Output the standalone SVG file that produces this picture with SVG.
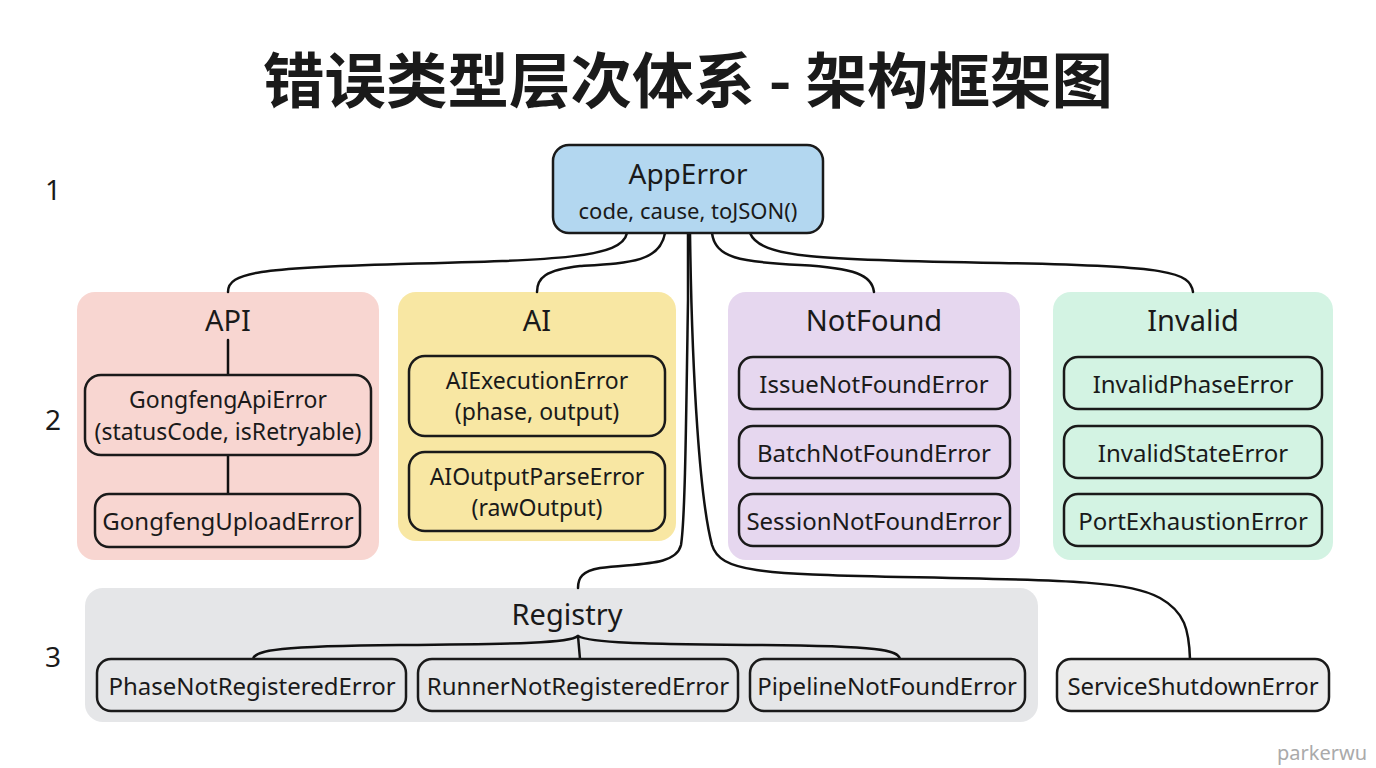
<svg xmlns="http://www.w3.org/2000/svg" width="1376" height="768" viewBox="0 0 1376 768">
<style>
text{font-family:"Noto Sans","Liberation Sans","Noto Sans CJK SC",sans-serif;fill:#1a1a1a;text-anchor:middle;dominant-baseline:central}
.title{font-family:"Noto Sans CJK SC","Noto Sans",sans-serif;font-size:60px;font-weight:700}
.row{font-size:28px}
.gt{font-size:29px}
.nt{font-size:24px}
.nt2{font-size:23px}
.box{stroke:#1a1a1a;stroke-width:2.5}
.grp{stroke:none}
.conn path{fill:none;stroke:#111;stroke-width:2.5;stroke-linecap:round}
.wm{font-size:20px;fill:#aaaaaa}
</style>
<rect width="1376" height="768" fill="#ffffff"/>
<text class="title" x="688" y="76" textLength="850" lengthAdjust="spacingAndGlyphs">错误类型层次体系 - 架构框架图</text>
<text class="row" x="53" y="189">1</text>
<text class="row" x="53" y="419">2</text>
<text class="row" x="53" y="656">3</text>

<g id="group-api">
<rect class="grp" x="77" y="292" width="302" height="268" rx="18" fill="#f8d6d1"/>
<text class="gt" x="228" y="319">API</text>
</g>
<g id="group-ai">
<rect class="grp" x="398" y="292" width="278" height="249" rx="18" fill="#f8e7a3"/>
<text class="gt" x="537" y="319">AI</text>
</g>
<g id="group-notfound">
<rect class="grp" x="728" y="292" width="292" height="268" rx="18" fill="#e6d7ef"/>
<text class="gt" x="874" y="319">NotFound</text>
</g>
<g id="group-invalid">
<rect class="grp" x="1053" y="292" width="280" height="268" rx="18" fill="#d3f3e3"/>
<text class="gt" x="1193" y="319">Invalid</text>
</g>
<g id="group-registry">
<rect class="grp" x="85" y="588" width="953" height="134" rx="18" fill="#e5e6e8"/>
<text class="gt" x="567" y="613">Registry</text>
</g>

<g class="conn" id="connectors">
<path d="M627,233 C622,258 560,260 400,264 C260,268 228,272 228,292"/>
<path d="M665,233 C660,262 630,263 580,266 C545,270 537,278 537,292"/>
<path d="M712,233 C715,258 740,262 800,265 C855,268 872,275 874,292"/>
<path d="M750,233 C760,258 820,260 1000,263 C1170,266 1190,272 1193,292"/>
<path d="M688,233 L688,300 C686,430 685,520 681,545 C676,566 640,563 600,568 C582,571 578,578 578,588"/>
<path d="M690,233 C692,380 700,500 712,545 C720,572 760,574 900,577 C1080,580 1130,582 1160,598 C1185,612 1189,630 1190,659"/>
<path d="M228,340 L228,375"/>
<path d="M228,455 L228,494"/>
<path d="M578,636 C570,643 520,644 400,645 C280,646 255,650 253,659"/>
<path d="M578,636 L580,659"/>
<path d="M578,636 C590,643 640,644 760,645 C880,646 898,650 900,659"/>
</g>

<g id="apperror">
<rect class="box" x="553" y="145" width="270" height="88" rx="16" fill="#b3d7f0"/>
<text x="688" y="173" font-size="28">AppError</text>
<text x="688" y="210" font-size="22">code, cause, toJSON()</text>
</g>

<g id="gongfengapierror">
<rect class="box" x="85" y="375" width="286" height="80" rx="16" fill="#f8d6d1"/>
<text class="nt2" x="228" y="399">GongfengApiError</text>
<text class="nt2" x="228" y="431">(statusCode, isRetryable)</text>
</g>
<g id="gongfenguploaderror">
<rect class="box" x="95" y="494" width="265" height="53" rx="14" fill="#f8d6d1"/>
<text class="nt" x="228" y="520">GongfengUploadError</text>
</g>

<g id="aiexecutionerror">
<rect class="box" x="409" y="356" width="256" height="80" rx="16" fill="#f8e7a3"/>
<text class="nt2" x="537" y="380">AIExecutionError</text>
<text class="nt2" x="537" y="411">(phase, output)</text>
</g>
<g id="aioutputparseerror">
<rect class="box" x="409" y="452" width="256" height="79" rx="16" fill="#f8e7a3"/>
<text class="nt2" x="537" y="476">AIOutputParseError</text>
<text class="nt2" x="537" y="507">(rawOutput)</text>
</g>

<g id="issuenotfounderror">
<rect class="box" x="739" y="357" width="271" height="52" rx="14" fill="#e6d7ef"/>
<text class="nt" x="874" y="383">IssueNotFoundError</text>
</g>
<g id="batchnotfounderror">
<rect class="box" x="739" y="426" width="271" height="52" rx="14" fill="#e6d7ef"/>
<text class="nt" x="874" y="452">BatchNotFoundError</text>
</g>
<g id="sessionnotfounderror">
<rect class="box" x="739" y="494" width="271" height="52" rx="14" fill="#e6d7ef"/>
<text class="nt" x="874" y="520">SessionNotFoundError</text>
</g>

<g id="invalidphaseerror">
<rect class="box" x="1064" y="357" width="258" height="52" rx="14" fill="#d3f3e3"/>
<text class="nt" x="1193" y="383">InvalidPhaseError</text>
</g>
<g id="invalidstateerror">
<rect class="box" x="1064" y="426" width="258" height="52" rx="14" fill="#d3f3e3"/>
<text class="nt" x="1193" y="452">InvalidStateError</text>
</g>
<g id="portexhaustionerror">
<rect class="box" x="1064" y="494" width="258" height="52" rx="14" fill="#d3f3e3"/>
<text class="nt" x="1193" y="520">PortExhaustionError</text>
</g>

<g id="phasenotregisterederror">
<rect class="box" x="97" y="659" width="309" height="52" rx="14" fill="#e5e6e8"/>
<text class="nt" x="252" y="685">PhaseNotRegisteredError</text>
</g>
<g id="runnernotregisterederror">
<rect class="box" x="418" y="659" width="320" height="52" rx="14" fill="#e5e6e8"/>
<text class="nt" x="578" y="685">RunnerNotRegisteredError</text>
</g>
<g id="pipelinenotfounderror">
<rect class="box" x="750" y="659" width="275" height="52" rx="14" fill="#e5e6e8"/>
<text class="nt" x="887" y="685">PipelineNotFoundError</text>
</g>
<g id="serviceshutdownerror">
<rect class="box" x="1057" y="659" width="272" height="52" rx="14" fill="#ececec"/>
<text class="nt" x="1193" y="685">ServiceShutdownError</text>
</g>

<text class="wm" x="1322" y="752">parkerwu</text>
</svg>
